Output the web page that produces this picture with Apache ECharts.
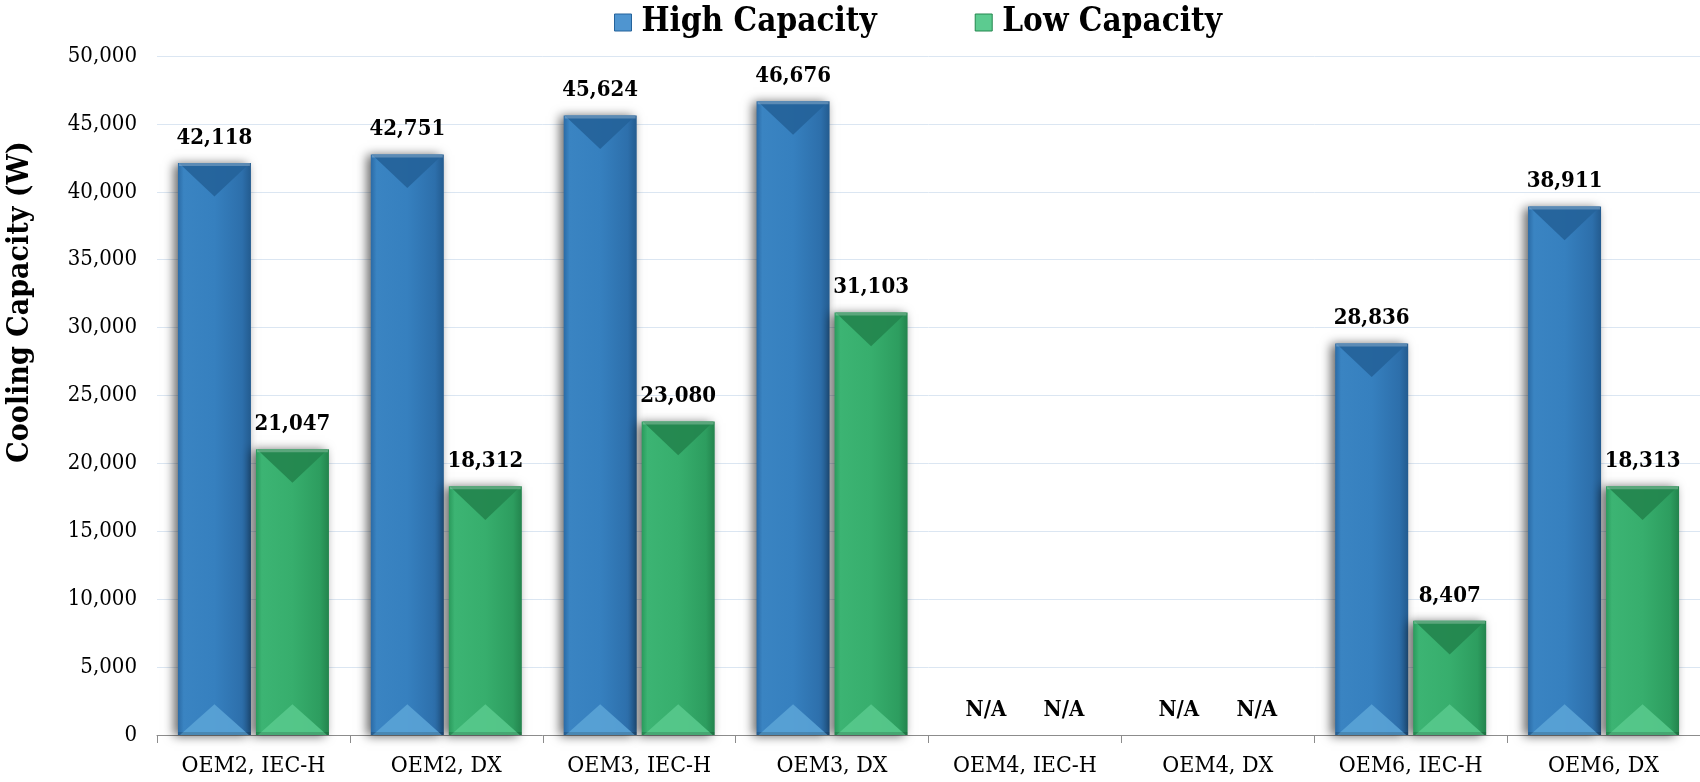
<!DOCTYPE html>
<html>
<head>
<meta charset="utf-8">
<script src="https://cdn.jsdelivr.net/npm/echarts@6/dist/echarts.min.js"></script>
<style>html,body{margin:0;padding:0;background:#fff;}#c{width:1700px;height:782px;}</style>
</head>
<body>
<div id="c"></div>
<script>
const categories = ['OEM2, IEC-H','OEM2, DX','OEM3, IEC-H','OEM3, DX','OEM4, IEC-H','OEM4, DX','OEM6, IEC-H','OEM6, DX'];
const highCapacity = [42118, 42751, 45624, 46676, null, null, 28836, 38911];
const lowCapacity  = [21047, 18312, 23080, 31103, null, null, 8407, 18313];
const seriesNames = ['High Capacity', 'Low Capacity'];
const yMin = 0, yMax = 50000, yInterval = 5000;
const axisTitle = 'Cooling Capacity (W)';

const FONT = "'DejaVu Serif Condensed', 'DejaVu Serif', serif";
const BAR_W = 73, BAR_GAP = 5;
const G = echarts.graphic.LinearGradient;

const palettes = [
  { main: new G(0,0,1,0,[{offset:0,color:'#2b6ba6'},{offset:0.08,color:'#3a84c2'},{offset:0.5,color:'#3680bf'},{offset:0.88,color:'#2d6fab'},{offset:1,color:'#235b8f'}]),
    top: '#25639b', bottom: '#5aa3d6', icon: '#4f95d0' },
  { main: new G(0,0,1,0,[{offset:0,color:'#2a9a5c'},{offset:0.08,color:'#3cb473'},{offset:0.5,color:'#37ae6d'},{offset:0.88,color:'#2d9d5f'},{offset:1,color:'#23844d'}]),
    top: '#24874f', bottom: '#58c98c', icon: '#5ccb90' }
];

function toBarData(arr){
  return arr.map(v => v === null ? {value: 0, label: {formatter: 'N/A'}} : v);
}

const labelStyle = {
  show: true, position: 'top', distance: 14,
  fontFamily: FONT, fontWeight: 'bold', fontSize: 22, color: '#000',
  formatter: p => p.value.toLocaleString('en-US')
};

function bevelSeries(arr, idx){
  const sign = idx === 0 ? -1 : 1;
  const pal = palettes[idx];
  return {
    type: 'custom', silent: true, z: 5,
    data: arr.map((v,i) => [i, v === null ? 0 : v, v === null ? 0 : 1]),
    renderItem: function(params, api){
      if (!api.value(2)) return;
      const top = api.coord([api.value(0), api.value(1)]);
      const base = api.coord([api.value(0), 0]);
      const cx = top[0] + sign * (BAR_W + BAR_GAP) / 2;
      const x0 = cx - BAR_W/2, x1 = cx + BAR_W/2;
      const yt = top[1], yb = base[1];
      const h = yb - yt;
      const d = Math.min(BAR_W*0.46, h/2);
      const db = Math.min(BAR_W*0.42, h/2);
      return {
        type: 'group',
        children: [
          { type: 'polygon', shape: {points: [[x0+1,yt],[x1-1,yt],[cx,yt+d]]},
            style: {fill: pal.top, opacity: 0.95} },
          { type: 'rect', shape: {x: x0+1, y: yt, width: BAR_W-2, height: 3},
            style: {fill: 'rgba(255,255,255,0.25)'} },
          { type: 'polygon', shape: {points: [[x0+2,yb],[x1-2,yb],[cx,yb-db]]},
            style: {fill: pal.bottom, opacity: 0.9} },
          { type: 'rect', shape: {x: x0, y: yb-3, width: BAR_W, height: 3},
            style: {fill: 'rgba(0,0,0,0.15)'} }
        ]
      };
    }
  };
}

const chart = echarts.init(document.getElementById('c'));
chart.setOption({
  animation: false,
  backgroundColor: '#fff',
  textStyle: {fontFamily: FONT},
  legend: {
    data: seriesNames.map((n,i) => ({name: n, itemStyle: {color: palettes[i].icon, borderColor: palettes[i].top, borderWidth: 1}})),
    left: 609, top: 1, itemWidth: 17, itemHeight: 17, itemGap: 98,
    icon: 'rect',
    textStyle: {fontFamily: FONT, fontWeight: 'bold', fontSize: 33, color: '#000', padding: [0,0,0,5]}
  },
  grid: {left: 157, right: 0, top: 56, bottom: 47},
  xAxis: {
    type: 'category', data: categories,
    axisLine: {lineStyle: {color: '#8c8c8c', width: 1}},
    axisTick: {show: true, length: 8, lineStyle: {color: '#8c8c8c'}},
    axisLabel: {fontFamily: FONT, fontSize: 23, color: '#000', margin: 20}
  },
  yAxis: {
    type: 'value', min: yMin, max: yMax, interval: yInterval,
    axisLine: {show: false}, axisTick: {show: false},
    splitLine: {lineStyle: {color: '#dbe6f2', width: 1}},
    axisLabel: {fontFamily: FONT, fontSize: 22, color: '#000', margin: 20,
      formatter: v => v.toLocaleString('en-US')}
  },
  graphic: [{
    type: 'text', x: 20, y: 302, rotation: Math.PI/2,
    style: {text: axisTitle, fontFamily: FONT, fontWeight: 'bold', fontSize: 30, fill: '#000',
      textAlign: 'center', textVerticalAlign: 'middle'}
  }],
  series: [
    { name: seriesNames[0], type: 'bar', data: toBarData(highCapacity), barWidth: BAR_W, barGap: (BAR_GAP/BAR_W*100)+'%',
      itemStyle: {color: palettes[0].main, shadowBlur: 10, shadowColor: 'rgba(0,0,0,0.6)', shadowOffsetX: -4, shadowOffsetY: 1},
      label: labelStyle },
    { name: seriesNames[1], type: 'bar', data: toBarData(lowCapacity), barWidth: BAR_W,
      itemStyle: {color: palettes[1].main, shadowBlur: 10, shadowColor: 'rgba(0,0,0,0.6)', shadowOffsetX: -4, shadowOffsetY: 1},
      label: labelStyle },
    bevelSeries(highCapacity, 0),
    bevelSeries(lowCapacity, 1)
  ]
});
</script>
</body>
</html>
